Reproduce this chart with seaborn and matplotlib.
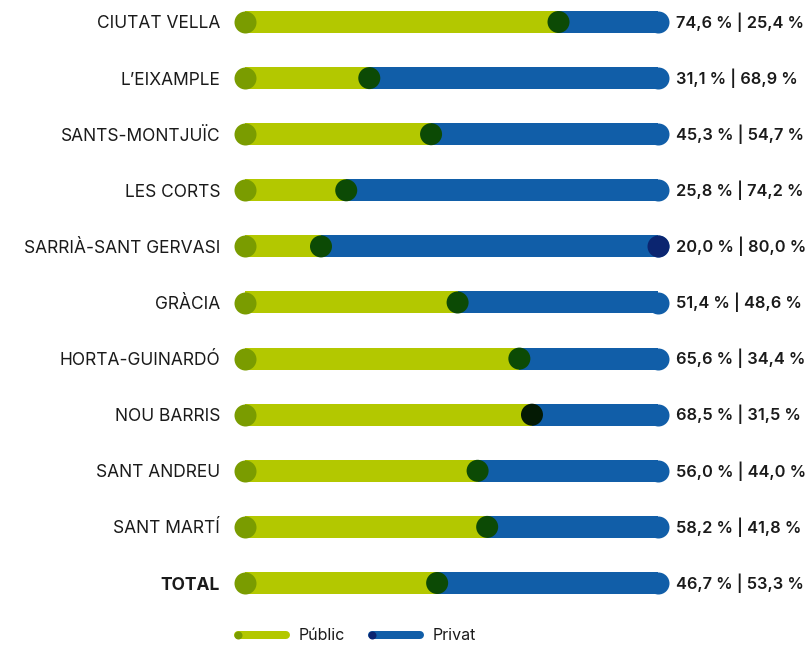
import matplotlib
matplotlib.use("Agg")
import matplotlib.pyplot as plt
import seaborn as sns
import pandas as pd
import numpy as np

# DATA
districtes = ["CIUTAT VELLA", "L\u2019EIXAMPLE", "SANTS-MONTJUÏC", "LES CORTS",
              "SARRIÀ-SANT GERVASI", "GRÀCIA", "HORTA-GUINARDÓ", "NOU BARRIS",
              "SANT ANDREU", "SANT MARTÍ", "TOTAL"]
public = [74.6, 31.1, 45.3, 25.8, 20.0, 51.4, 65.6, 68.5, 56.0, 58.2, 46.7]
privat = [25.4, 68.9, 54.7, 74.2, 80.0, 48.6, 34.4, 31.5, 44.0, 41.8, 53.3]
# colour of the dot that sits on the split (one row shows it almost black)
split_dot = ["#0c4a05", "#0c4a05", "#0c4a05", "#0c4a05", "#0c4a05", "#0c4a05",
             "#0c4a05", "#041a04", "#0c4a05", "#0c4a05", "#0c4a05"]
# rows where the Privat end dot is shown
privat_end_dot = ["SARRIÀ-SANT GERVASI"]

GREEN = "#b3c800"
OLIVE = "#7a9c00"
BLUE = "#115ea8"
NAVY = "#0b2570"

df = pd.DataFrame({"districte": districtes, "public": public, "privat": privat})
df["total"] = df["public"] + df["privat"]

sns.set_theme(style="white")
plt.rcParams["font.family"] = ["Inter", "DejaVu Sans"]

W, H = 807, 670
fig = plt.figure(figsize=(W / 100, H / 100), dpi=100)

# bar area: 0 -> x=234px, 100 -> x=669px; rows every ~56px starting at y=22px
x0, x1 = 234, 669
top, bottom = 0, 612
step = 56.1
ax = fig.add_axes([x0 / W, 1 - bottom / H, (x1 - x0) / W, (bottom - top) / H])

px_per_unit = (x1 - x0) / 100
r = 11 / px_per_unit          # dot radius in data units
bar_h = 22 / step             # bar thickness in row units
dot_size = (22 * 0.72) ** 2   # marker area in pt^2

order = list(df["districte"])
# blue full bar (right end rounded by a blue dot)
df["blue_len"] = df["total"] - r
sns.barplot(data=df, y="districte", x="blue_len", order=order, orient="h",
            color=BLUE, saturation=1, width=bar_h, ax=ax)
sns.barplot(data=df, y="districte", x="public", order=order, orient="h",
            color=GREEN, saturation=1, width=bar_h, ax=ax)
# bars start at the centre of the left dot so the rounded end shows
for p in ax.patches:
    p.set_edgecolor("none")
    p.set_linewidth(0)
    p.set_width(p.get_width() - r)
    p.set_x(r)

ypos = np.arange(len(df))
ax.scatter(df["blue_len"], ypos, s=dot_size, color=BLUE, linewidths=0, zorder=3)
ax.scatter(np.full(len(df), r), ypos, s=dot_size, color=OLIVE, linewidths=0, zorder=4)
ax.scatter(df["public"], ypos, s=dot_size, color=split_dot, linewidths=0, zorder=4)
end_rows = df["districte"].isin(privat_end_dot)
ax.scatter(df.loc[end_rows, "blue_len"], ypos[end_rows.values], s=dot_size,
           color=NAVY, linewidths=0, zorder=5)

ax.set_xlim(0, 100)
ax.set_ylim((bottom - 22) / step, -22 / step)
ax.set_xlabel("")
ax.set_ylabel("")
ax.set_xticks([])
ax.set_yticks(ypos)
ax.set_yticklabels(order, fontsize=12.5, color="#1a1a1a")
ax.tick_params(axis="y", length=0, pad=10)
ax.get_yticklabels()[-1].set_fontweight("bold")
sns.despine(ax=ax, left=True, bottom=True)

for i, (pu, pr) in enumerate(zip(df["public"], df["privat"])):
    txt = f"{pu:.1f} % | {pr:.1f} %".replace(".", ",")
    ax.annotate(txt, xy=(100, i), xytext=(5, 0), textcoords="offset points",
                ha="left", va="center", fontsize=11.8, fontweight="semibold",
                color="#1a1a1a", annotation_clip=False)

# legend drawn in pixel coordinates
lg = fig.add_axes([0, 0, 1, 1])
lg.set_xlim(0, W)
lg.set_ylim(H, 0)
lg.axis("off")
lg.patch.set_alpha(0)
ly = 635
for lx, col, dcol, lab in [(234, GREEN, OLIVE, "Públic"), (368, BLUE, NAVY, "Privat")]:
    lg.plot([lx + 4, lx + 52], [ly, ly], color=col, lw=8 * 0.72,
            solid_capstyle="round")
    lg.scatter([lx + 4], [ly], s=(8 * 0.72) ** 2, color=dcol, linewidths=0, zorder=3)
    lg.text(lx + 65, ly, lab, ha="left", va="center", fontsize=11.5,
            color="#1a1a1a")

fig.savefig("out.png", dpi=100)
